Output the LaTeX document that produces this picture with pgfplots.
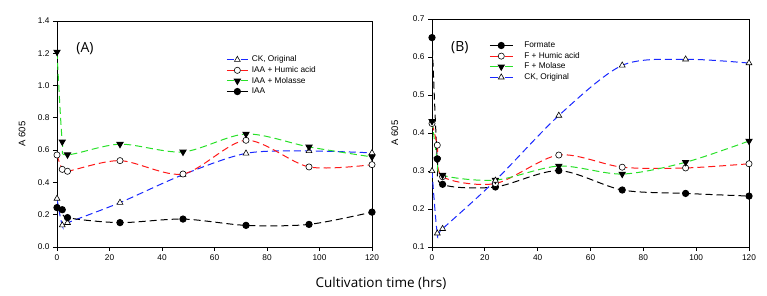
\documentclass[border=0pt]{standalone}
\usepackage{fontspec}
\setmainfont{Liberation Sans}
\newfontfamily\segoe{Open Sans}
\usepackage{pgfplots}
\pgfplotsset{compat=1.18}
\definecolor{cblue}{RGB}{25,40,255}
\definecolor{cred}{RGB}{255,25,25}
\definecolor{cgreen}{RGB}{40,225,40}
\pgfplotsset{
  base/.style={
    scale only axis, xmin=0, xmax=120, xtick={0,20,...,120},
    tick align=outside, xtick pos=left, ytick pos=left,
    major tick length=4pt,
    axis line style={line width=0.8pt},
    tick style={line width=0.8pt, black},
    tick label style={font=\fontsize{8.3}{9}\selectfont},
    /pgf/number format/assume math mode=true,
    yticklabel style={/pgf/number format/fixed,/pgf/number format/fixed zerofill,/pgf/number format/precision=1},
    every axis plot/.append style={line width=1pt, dash pattern=on 7pt off 4pt, smooth, tension=0.5},
    legend style={draw=none, fill=none, font=\fontsize{8.3}{10}\selectfont, anchor=north west,
      inner sep=0pt, row sep=1.3pt, nodes={inner sep=0.5pt, text height=6.3pt, text depth=2pt}},
    legend cell align=left,
    ylabel={A 605},
    ylabel style={font=\fontsize{9.5}{10}\selectfont, anchor=center},
  },
  legA/.style={legend image code/.code={%
      \path[draw=none, fill=none] (0pt,0pt) -- (24.5pt,0pt);
      \draw[##1, mark=none, solid] (0pt,0pt) -- (7pt,0pt) (14pt,0pt) -- (21pt,0pt);
      \draw[##1, only marks] plot coordinates {(10.5pt,0pt)};}},
  legB/.style={legend image code/.code={%
      \path[draw=none, fill=none] (0pt,0pt) -- (34pt,0pt);
      \draw[##1, mark=none, solid] (0pt,0pt) -- (8pt,0pt) (15pt,0pt) -- (23pt,0pt);
      \draw[##1, only marks] plot coordinates {(11.5pt,0pt)};}},
  ck/.style={cblue, mark=triangle*, mark size=3.4pt, mark options={solid, draw=black, fill=white, line width=0.6pt}},
  hu/.style={cred, mark=*, mark size=3.1pt, mark options={solid, draw=black, fill=white, line width=0.6pt}},
  mo/.style={cgreen, mark=triangle*, mark size=3.4pt, mark options={solid, draw=black, fill=black, rotate=180}},
  ia/.style={black, mark=*, mark size=3.1pt, mark options={solid, draw=black, fill=black}},
}
\begin{document}
\begin{tikzpicture}
\begin{axis}[base, legA, at={(57pt,49pt)}, anchor=south west, width=315pt, height=226pt,
  ymin=0, ymax=1.4, ytick={0,0.2,...,1.4},
  ylabel style={at={(axis description cs:-0.111,0.5)}},
  legend style={at={(rel axis cs:0.537,0.85)}}]
\addplot[ck] coordinates {(0,0.30) (2,0.135) (4,0.15) (24,0.275) (48,0.448) (72,0.58) (96,0.595) (120,0.583)};
\addlegendentry{CK, Original}
\addplot[hu] coordinates {(0,0.57) (2,0.481) (4,0.469) (24,0.535) (48,0.452) (72,0.661) (96,0.496) (120,0.51)};
\addlegendentry{IAA + Humic acid}
\addplot[mo] coordinates {(0,1.208) (2,0.652) (4,0.572) (24,0.637) (48,0.589) (72,0.70) (96,0.62) (120,0.558)};
\addlegendentry{IAA + Molasse}
\addplot[ia] coordinates {(0,0.244) (2,0.231) (4,0.182) (24,0.151) (48,0.173) (72,0.134) (96,0.14) (120,0.216)};
\addlegendentry{IAA}
\node[font=\segoe\fontsize{14}{16}\selectfont] at (axis description cs:0.089,0.88) {(A)};
\end{axis}
\begin{axis}[base, legB, at={(432pt,49pt)}, anchor=south west, width=317pt, height=228pt,
  ymin=0.1, ymax=0.7, ytick={0.1,0.2,...,0.7},
  ylabel style={at={(axis description cs:-0.117,0.5)}},
  legend style={at={(rel axis cs:0.18,0.905)}}]
\addplot[ia] coordinates {(0,0.651) (2,0.332) (4,0.265) (24,0.258) (48,0.301) (72,0.25) (96,0.241) (120,0.234)};
\addlegendentry{Formate}
\addplot[hu] coordinates {(0,0.425) (2,0.368) (4,0.285) (24,0.267) (48,0.342) (72,0.31) (96,0.308) (120,0.319)};
\addlegendentry{F + Humic acid}
\addplot[mo] coordinates {(0,0.431) (2,0.33) (4,0.289) (24,0.276) (48,0.313) (72,0.292) (96,0.323) (120,0.379)};
\addlegendentry{F + Molase}
\addplot[ck] coordinates {(0,0.30) (2,0.136) (4,0.148) (24,0.275) (48,0.446) (72,0.578) (96,0.594) (120,0.584)};
\addlegendentry{CK, Original}
\node[font=\segoe\fontsize{14}{16}\selectfont] at (axis description cs:0.088,0.873) {(B)};
\end{axis}
\node[font=\segoe\fontsize{13.5}{16}\selectfont] at (381pt,13pt) {Cultivation time (hrs)};
\pgfresetboundingbox
\useasboundingbox (0,0) rectangle (767pt,296pt);
\end{tikzpicture}
\end{document}
